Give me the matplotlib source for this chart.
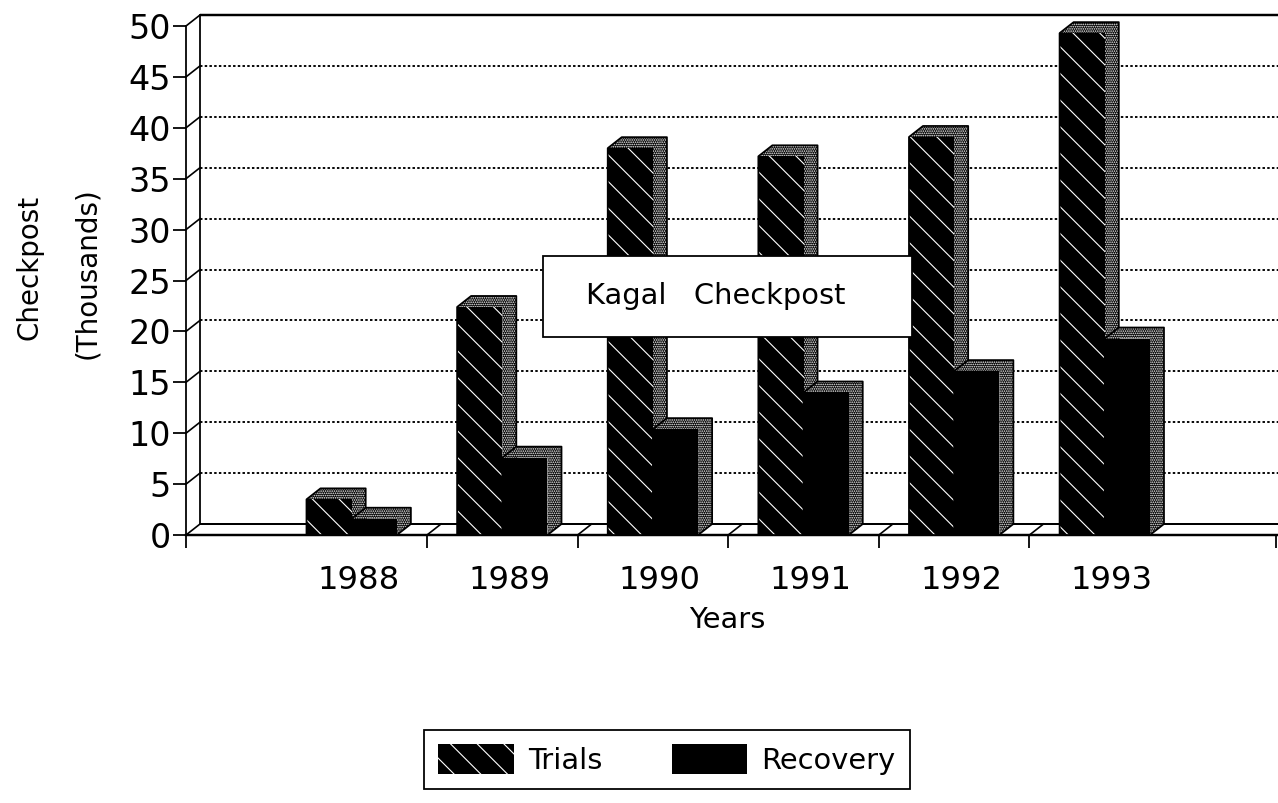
import numpy as np
import matplotlib
matplotlib.use('Agg')
import matplotlib.pyplot as plt
from matplotlib.patches import Polygon, Rectangle

years = [1988, 1989, 1990, 1991, 1992, 1993]
trials = [3.5, 22.4, 38.0, 37.2, 39.1, 49.3]
recovery = [1.6, 7.6, 10.4, 14.0, 16.1, 19.3]
y_ticks = [0, 5, 10, 15, 20, 25, 30, 35, 40, 45, 50]
series_names = ['Trials', 'Recovery']

W, H = 1278, 803
DPI = 80

# one year is about 150.7 px, one thousand about 10.18 px
X_LEFT, X_RIGHT = 1986.9, 1994.15
DX, DY = 0.093, 1.08  # depth of the fake 3D
BAR_W = 0.30

plt.rcParams['font.family'] = ['DejaVu Sans']
plt.rcParams['hatch.linewidth'] = 1.0

fig = plt.figure(figsize=(W / DPI, H / DPI), dpi=DPI, facecolor='white')
ax = fig.add_axes([186 / W, 1 - 535 / H, (W - 186) / W, 509 / H])
ax.set_xlim(X_LEFT, X_RIGHT)
ax.set_ylim(0, 50)
for s in ax.spines.values():
    s.set_visible(False)
ax.patch.set_alpha(0)


def draw_bar(x, w, h, face_hatch, z):
    # top and right side are stippled, front is the series fill
    top = Polygon([(x, h), (x + DX, h + DY), (x + w + DX, h + DY), (x + w, h)], closed=True,
                  facecolor='black', edgecolor='white', hatch='......', lw=0, zorder=z, clip_on=False)
    side = Polygon([(x + w, 0), (x + w + DX, DY), (x + w + DX, h + DY), (x + w, h)], closed=True,
                   facecolor='black', edgecolor='white', hatch='......', lw=0, zorder=z, clip_on=False)
    front = Rectangle((x, 0), w, h, facecolor='black', edgecolor='white' if face_hatch else 'black',
                      hatch=face_hatch, lw=0, zorder=z + 0.1, clip_on=False)
    ax.add_patch(top)
    ax.add_patch(side)
    ax.add_patch(front)
    # black outline round the whole block
    ax.plot([x, x, x + DX, x + w + DX, x + w + DX, x + w, x], [0, h, h + DY, h + DY, DY, 0, 0],
            color='black', lw=1.6, zorder=z + 0.2, clip_on=False)


# back wall gridlines, the 50 line is solid
ax.hlines(y_ticks[1:-1], X_LEFT + DX, X_RIGHT, color='black', lw=1.7, linestyles=(0, (1.3, 1.2)),
          transform=ax.transData, zorder=1)
for yt in y_ticks[1:-1]:
    pass
ax.hlines([v + DY for v in y_ticks[:-1]], X_LEFT + DX, X_RIGHT, color='white', lw=0, zorder=0)
grid_y = [v + DY for v in y_ticks[1:-1]]
ax.collections[0].remove()
ax.hlines(grid_y, X_LEFT + DX, X_RIGHT, color='black', lw=1.7, linestyles=(0, (1.3, 1.2)), zorder=1)
ax.hlines([50 + DY], X_LEFT + DX, X_RIGHT, color='black', lw=2.2, zorder=1, clip_on=False)
ax.hlines([DY], X_LEFT + DX, X_RIGHT, color='black', lw=1.8, zorder=1)

# walls
ax.plot([X_LEFT, X_LEFT], [0, 50], color='black', lw=1.6, zorder=2, clip_on=False)
ax.plot([X_LEFT + DX, X_LEFT + DX], [DY, 50 + DY], color='black', lw=1.6, zorder=2, clip_on=False)
for yt in y_ticks:
    ax.plot([X_LEFT, X_LEFT + DX], [yt, yt + DY], color='black', lw=1.5, zorder=2, clip_on=False)
ax.plot([X_LEFT, X_RIGHT], [0, 0], color='black', lw=2.2, zorder=2, clip_on=False)

# floor dividers
x_edges = [1988.5, 1989.5, 1990.5, 1991.5, 1992.5]
for xe in x_edges:
    ax.plot([xe, xe + DX], [0, DY], color='black', lw=1.5, zorder=2)

for i, yr in enumerate(years):
    draw_bar(yr - BAR_W, BAR_W, trials[i], '\\', 3 + i)
    draw_bar(yr, BAR_W, recovery[i], None, 3.5 + i)

ax.set_yticks(y_ticks)
ax.set_yticklabels([str(v) for v in y_ticks], fontsize=30)
ax.set_xticks([X_LEFT] + x_edges + [X_RIGHT - 0.015])
ax.set_xticklabels([])
ax.tick_params(axis='both', length=11.7, width=1.6, color='black', pad=2)

for yr in years:
    ax.text(yr + DX / 2, -2.9, str(yr), ha='center', va='top', fontsize=29, clip_on=False)

fig.text(727 / W, 1 - 620 / H, 'Years', ha='center', va='center', fontsize=26)
fig.text(30 / W, 1 - 267 / H, 'Checkpost', rotation=90, ha='center', va='center', fontsize=25)
fig.text(87 / W, 1 - 273 / H, '(Thousands)', rotation=90, ha='center', va='center', fontsize=25)

# title box sitting over the bars
box = Rectangle((543 / W, 1 - 337 / H), 369 / W, 81 / H, transform=fig.transFigure,
                facecolor='white', edgecolor='black', lw=1.6, zorder=20)
fig.add_artist(box)
t = fig.text(716 / W, 1 - 296 / H, 'Kagal   Checkpost', ha='center', va='center', fontsize=26, zorder=21)

# legend
leg_t = Rectangle((0, 0), 1, 1, facecolor='black', edgecolor='white', hatch='\\', lw=0)
leg_r = Rectangle((0, 0), 1, 1, facecolor='black', edgecolor='black', lw=0)
leg = fig.legend([leg_t, leg_r], series_names, ncol=2, loc='upper left',
                 bbox_to_anchor=(424 / W, 1 - 730 / H), borderaxespad=0, fancybox=False,
                 edgecolor='black', framealpha=1, fontsize=26, handlelength=2.6, handleheight=1.2,
                 columnspacing=2.4, handletextpad=0.5, borderpad=0.5)
leg.get_frame().set_linewidth(1.6)

fig.savefig('out.png', dpi=DPI, facecolor='white')
